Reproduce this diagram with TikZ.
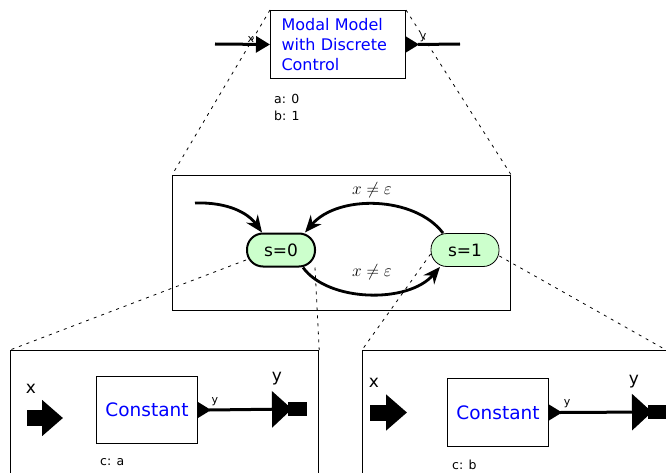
\documentclass[tikz,border=0pt]{standalone}
\usepackage{fontspec}
\setmainfont{DejaVu Sans}
\usetikzlibrary{arrows.meta}
\begin{document}
\begin{tikzpicture}[x=1pt, y=-1pt,
  actor/.style = {draw, line width=1pt, fill=white, text=blue, inner sep=0pt},
  frame/.style = {draw, line width=1.2pt, inner sep=0pt},
  state/.style = {draw, rounded corners=16pt, fill=green!20,
    minimum width=68pt, minimum height=33pt, inner sep=0pt,
    font=\fontsize{17}{20}\selectfont},
  param/.style = {font=\fontsize{12.5}{17}\selectfont, align=left, inner sep=0pt},
  smalllabel/.style = {font=\fontsize{11}{12}\selectfont, inner sep=0pt},
  biglabel/.style = {font=\fontsize{17}{18}\selectfont, inner sep=0pt},
  guard/.style = {font=\fontsize{19}{20}\selectfont, inner sep=0pt},
  trans/.style = {line width=2.8pt, -{Stealth[length=17pt, width=14pt]}},
  wire/.style = {line width=3pt},
  inport/.style = {line width=16pt, -{Triangle[length=21pt, width=35pt]}},
  outport/.style = {line width=3pt, -{Triangle[length=20pt, width=36pt]}},
  link/.style = {dash pattern=on 3pt off 5pt, line width=0.8pt},
  ]
  \useasboundingbox (0,0) rectangle (666,473);
  \clip (0,0) rectangle (666,473);

  % top level actor
  \node[actor, anchor=north west, minimum width=135pt, minimum height=68pt,
    text width=113pt, align=left, font=\fontsize{16}{20}\selectfont]
    (modal) at (270,10) {Modal Model\\with Discrete\\Control};
  \node[param, anchor=north west] (modalparams) at (274,94) {a: 0\\b: 1};
  \coordinate (xin) at (215,44);
  \coordinate (yout) at (460,44);
  \draw[wire, -{Triangle[length=14pt, width=16pt]}] (xin) -- (modal.west);
  \fill ([yshift=8pt]modal.east) -- ([xshift=13pt]modal.east) -- ([yshift=-8pt]modal.east) -- cycle;
  \draw[wire] ([xshift=12pt]modal.east) -- (yout);
  \node[smalllabel] (xlab) at (251,39) {x};
  \node[smalllabel] (ylab) at (423,38) {y};

  % controller
  \node[frame, anchor=north west, minimum width=338pt, minimum height=135pt] (ctrl) at (172,175) {};
  \node[state, line width=2pt] (s0) at (281,250) {s=0};
  \node[state, line width=0.8pt] (s1) at (465,250) {s=1};
  \coordinate (init) at (195,203);
  \draw[trans] (init) .. controls (228,202) and (248,213) .. ([xshift=-19pt]s0.north);
  \draw[trans] ([xshift=-22pt]s1.north) .. controls (415,196) and (338,194) .. ([xshift=24pt]s0.north);
  \draw[trans] ([xshift=22pt]s0.south) .. controls (328,302) and (408,304) .. ([xshift=-25pt]s1.south);
  \node[guard] (g10) at (372,190) {$x\neq\varepsilon$};
  \node[guard] (g01) at (372,272) {$x\neq\varepsilon$};

  % refinement of s=0
  \node[frame, anchor=north west, minimum width=308pt, minimum height=140pt] (refA) at (10,350) {};
  \node[actor, anchor=north west, minimum width=101pt, minimum height=67pt,
    font=\fontsize{18.5}{20}\selectfont] (constA) at (96,376) {Constant};
  \node[param, anchor=west] (constAparams) at (100,462) {c: a};
  \coordinate (xA) at (27,418);
  \coordinate (yA) at (292,409);
  \draw[inport] (xA) -- ([xshift=36pt]xA);
  \fill ([yshift=8pt]constA.east) -- ([xshift=13pt]constA.east) -- ([yshift=-8pt]constA.east) -- cycle;
  \draw[outport] ([xshift=11pt]constA.east) -- (yA);
  \draw[line width=14pt] ([xshift=-4pt]yA) -- ([xshift=15pt]yA);
  \node[biglabel] (xAlab) at (31,389) {x};
  \node[biglabel] (yAlab) at (277,379) {y};
  \node[smalllabel] (yAport) at (215,402) {y};

  % refinement of s=1
  \node[frame, anchor=north west, minimum width=330pt, minimum height=140pt] (refB) at (362,350) {};
  \node[actor, anchor=north west, minimum width=101pt, minimum height=68pt,
    font=\fontsize{18.5}{20}\selectfont] (constB) at (447,378) {Constant};
  \node[param, anchor=west] (constBparams) at (452,465) {c: b};
  \coordinate (xB) at (370,412.5);
  \coordinate (yB) at (652,412);
  \draw[inport] (xB) -- ([xshift=37pt]xB);
  \fill ([yshift=8pt]constB.east) -- ([xshift=13pt]constB.east) -- ([yshift=-8pt]constB.east) -- cycle;
  \draw[outport] ([xshift=11pt]constB.east) -- (yB);
  \draw[line width=14pt] ([xshift=-4pt]yB) -- ([xshift=20pt]yB);
  \node[biglabel] (xBlab) at (374,383) {x};
  \node[biglabel] (yBlab) at (634,382) {y};
  \node[smalllabel] (yBport) at (567,404) {y};

  % links to refinements
  \draw[link] (modal.north west) -- (ctrl.north west);
  \draw[link] (modal.north east) -- (ctrl.north east);
  \draw[link] ([yshift=-10pt]s0.west) -- (refA.north west);
  \draw[link] ([xshift=-1pt]s0.south east) -- (refA.north east);
  \draw[link] ([yshift=-4pt]s1.west) -- (refB.north west);
  \draw[link] ([yshift=-6pt]s1.east) -- (666,350);
\end{tikzpicture}
\end{document}
